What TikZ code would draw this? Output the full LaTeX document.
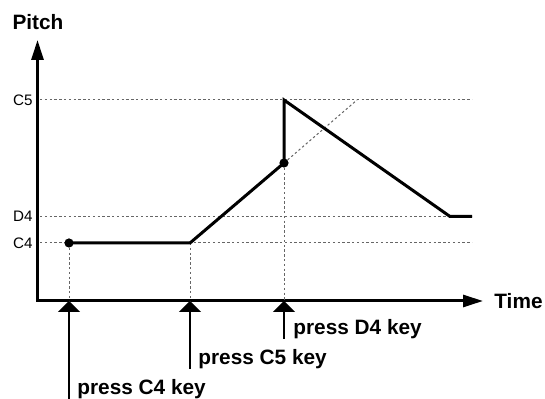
\documentclass[tikz,border=0pt]{standalone}
\usepackage{fontspec}
\setmainfont{Liberation Sans}
\usetikzlibrary{arrows.meta}

\tikzset{
	axis/.style={line width=1.5pt, -{Triangle[length=10pt,width=6pt]}},
	guide/.style={gray!80!black, line width=0.5pt, dash pattern=on 1.2pt off 1.2pt},
	pitchline/.style={line width=1.5pt, line join=miter},
	keyarrow/.style={line width=0.7pt, -{Triangle[length=5.5pt,width=11pt]}},
	bold/.style={font=\bfseries\fontsize{10.4}{12}\selectfont, inner sep=0pt},
	keylabel/.style={bold, anchor=base west},
	level/.style={font=\fontsize{7.6}{9}\selectfont, inner sep=0pt, anchor=east}
}

\begin{document}
\begin{tikzpicture}[x=0.5pt, y=-0.5pt]
	\useasboundingbox (0,0) rectangle (545,399);
	% axes
	\coordinate (O) at (37.5,301);
	\coordinate (ytop) at (37.5,40);
	\coordinate (xend) at (483,301);
	\draw[axis] (37.5,301.75) -- (ytop);
	\draw[axis] (O) -- (xend);
	\node[bold, anchor=base] (pitch) at (38,30) {Pitch};
	\node[bold, anchor=west] (time) at (494,301) {Time};
	% levels
	\node[level] (lC5) at (33,100) {C5};
	\node[level] (lD4) at (33,216.5) {D4};
	\node[level] (lC4) at (33,243) {C4};
	\coordinate (c5r) at (472,100);
	\coordinate (d4r) at (472,216.5);
	\coordinate (c4r) at (472,243);
	\draw[guide] (40,100) -- (c5r);
	\draw[guide] (40,216.5) -- (d4r);
	\draw[guide] (40,243) -- (c4r);
	% key events
	\coordinate (kC4) at (69,301);
	\coordinate (kC5) at (190,301);
	\coordinate (kD4) at (284,301);
	\coordinate (p0) at (69,243);
	\coordinate (p1) at (190,243);
	\coordinate (p2) at (284,163);
	\coordinate (p3) at (284,100);
	\coordinate (p4) at (450,216.5);
	\coordinate (p5) at (472,216.5);
	\coordinate (glide) at (357,100);
	\draw[guide] (p0) -- (kC4);
	\draw[guide] (p1) -- (kC5);
	\draw[guide] (p2) -- (kD4);
	\draw[guide] (p2) -- (glide);
	% pitch curve
	\draw[pitchline] (p0) -- (p1) -- (p2) -- (p3) -- (p4) -- (p5);
	\fill (p0) circle (2.3pt);
	\fill (p2) circle (2.3pt);
	% key presses
	\coordinate (bC4) at (69,399);
	\coordinate (bC5) at (190,369);
	\coordinate (bD4) at (284,339);
	\draw[keyarrow] (bC4) -- (kC4);
	\draw[keyarrow] (bC5) -- (kC5);
	\draw[keyarrow] (bD4) -- (kD4);
	\node[keylabel] (tC4) at (77,395) {press C4 key};
	\node[keylabel] (tC5) at (198,365) {press C5 key};
	\node[keylabel] (tD4) at (293,335) {press D4 key};
\end{tikzpicture}
\end{document}
